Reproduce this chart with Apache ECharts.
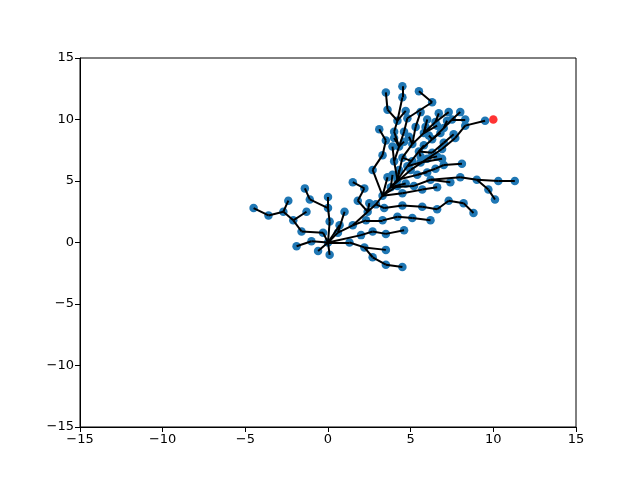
<!DOCTYPE html>
<html>
<head>
<meta charset="utf-8">
<script src="https://cdn.jsdelivr.net/npm/echarts@6/dist/echarts.min.js"></script>
<style>html,body{margin:0;padding:0;background:#fff}#c{width:640px;height:480px}</style>
</head>
<body>
<div id="c"></div>
<script>
// Tree nodes (x, y) and parent index of each node (-1 = root)
const nodeX = [0,-0.3,-1.6,-2.1,-2.7,-3.6,-4.5,-2.4,-1.3,-1.0,-1.9,-0.6,0.1,0.1,0.0,0.0,-1.1,-1.4,1.3,2.2,3.5,2.7,3.5,4.5,0.6,1.0,1.5,2.3,1.8,2.2,1.5,2.4,2.9,3.3,3.8,4.2,5.0,6.0,6.9,7.7,8.3,9.5,4.8,5.5,6.3,7.0,7.5,8.0,4.5,5.1,5.8,6.5,7.3,6.7,4.0,4.3,4.6,4.8,6.3,5.5,4.0,4.2,3.6,3.5,4.5,4.5,4.7,2.7,3.3,3.5,3.1,5.2,6.2,8.0,9.0,10.3,11.3,9.7,10.1,7.4,5.4,6.5,7.0,8.1,2.0,2.7,3.5,4.6,3.3,4.2,5.1,6.2,3.4,4.5,5.7,6.6,7.3,8.2,8.8,4.5,5.7,6.6,5.6,6.9,6.3,7.0,5.3,5.6,6.0,7.2,8.3,2.5,3.9,0.7,5.1,4.6,7.6,5.8,4.3,4.7,6.0,5.6,6.6,3.9,4.9,6.1,6.8,6.6,4.2,3.6,5.9,4.0];
const nodeY = [0,0.8,0.9,1.8,2.5,2.2,2.8,3.4,2.5,0.1,-0.3,-0.7,-1.0,1.7,2.8,3.7,3.5,4.4,0.0,-0.4,-0.6,-1.2,-1.8,-2.0,0.8,2.5,1.4,1.8,3.4,4.4,4.9,2.5,3.1,3.8,4.5,5.1,5.9,6.8,7.6,8.5,9.5,9.9,6.2,7.4,8.4,9.3,10.0,10.6,6.9,8.0,8.9,9.8,10.6,10.5,6.6,7.8,9.0,10.1,11.4,12.3,9.0,9.9,10.8,12.2,11.8,12.7,10.7,5.9,7.1,8.3,9.2,4.6,5.1,5.3,5.1,5.0,5.0,4.3,3.5,4.9,5.5,6.0,6.3,6.4,0.6,0.9,0.7,1.0,1.8,2.1,2.0,1.8,2.8,3.0,2.9,2.7,3.4,3.2,2.4,4.0,4.3,4.5,6.5,6.8,7.3,8.1,9.4,10.6,10.0,9.9,10.0,3.2,5.5,1.4,6.6,8.2,8.8,7.9,5.9,4.8,5.7,7.0,7.0,7.8,8.6,8.7,8.9,9.5,4.6,5.3,9.4,8.5];
const parent = [-1,0,1,2,3,4,5,4,3,0,9,0,0,0,13,14,14,16,0,18,19,19,21,22,0,24,24,26,31,28,29,26,31,32,33,34,34,36,37,38,39,40,35,42,43,44,45,46,35,48,49,50,51,51,35,54,55,56,57,58,55,60,61,62,61,64,61,33,67,68,69,34,71,72,73,74,75,74,77,72,35,80,81,82,0,84,85,86,27,88,89,90,32,92,93,94,95,96,97,33,99,100,42,102,43,104,49,106,50,45,46,31,34,0,48,55,105,43,35,34,80,43,37,54,49,44,44,50,33,33,50,55];
const goal = [10, 10];
const xTicks = [-15,-10,-5,0,5,10,15];
const yTicks = [-15,-10,-5,0,5,10,15];

const pts = nodeX.map((x,i)=>[x,nodeY[i]]);
const edges = [];
for (let i=0;i<parent.length;i++){
  if (parent[i] >= 0) edges.push({coords:[[nodeX[i],nodeY[i]],[nodeX[parent[i]],nodeY[parent[i]]]]});
}
const fmt = v => (v<0 ? '\u2212'+Math.abs(v) : ''+v);

const chart = echarts.init(document.getElementById('c'), null, {renderer:'canvas'});
const axisCommon = {
  axisLine:{show:true,onZero:false,lineStyle:{color:'#000',width:1}},
  axisTick:{show:true,inside:false,length:5,lineStyle:{color:'#000',width:1}},
  axisLabel:{color:'#000',fontSize:13,fontFamily:'DejaVu Sans',formatter:fmt,margin:6},
  splitLine:{show:false}
};
chart.setOption({
  animation:false,
  backgroundColor:'#fff',
  grid:{left:80,right:64,top:58,bottom:53,show:true,borderColor:'#000',borderWidth:1,containLabel:false},
  xAxis:Object.assign({type:'value',min:xTicks[0],max:xTicks[xTicks.length-1],interval:5},axisCommon),
  yAxis:Object.assign({type:'value',min:yTicks[0],max:yTicks[yTicks.length-1],interval:5},axisCommon),
  series:[
    {type:'scatter',data:pts,symbolSize:8.5,itemStyle:{color:'#1f77b4',opacity:1},z:2},
    {type:'lines',coordinateSystem:'cartesian2d',data:edges,lineStyle:{color:'#000',width:2,opacity:1},z:3,silent:true},
    {type:'scatter',data:[goal],symbolSize:8.5,itemStyle:{color:'#ff0000'},z:4}
  ]
});
</script>
</body>
</html>
